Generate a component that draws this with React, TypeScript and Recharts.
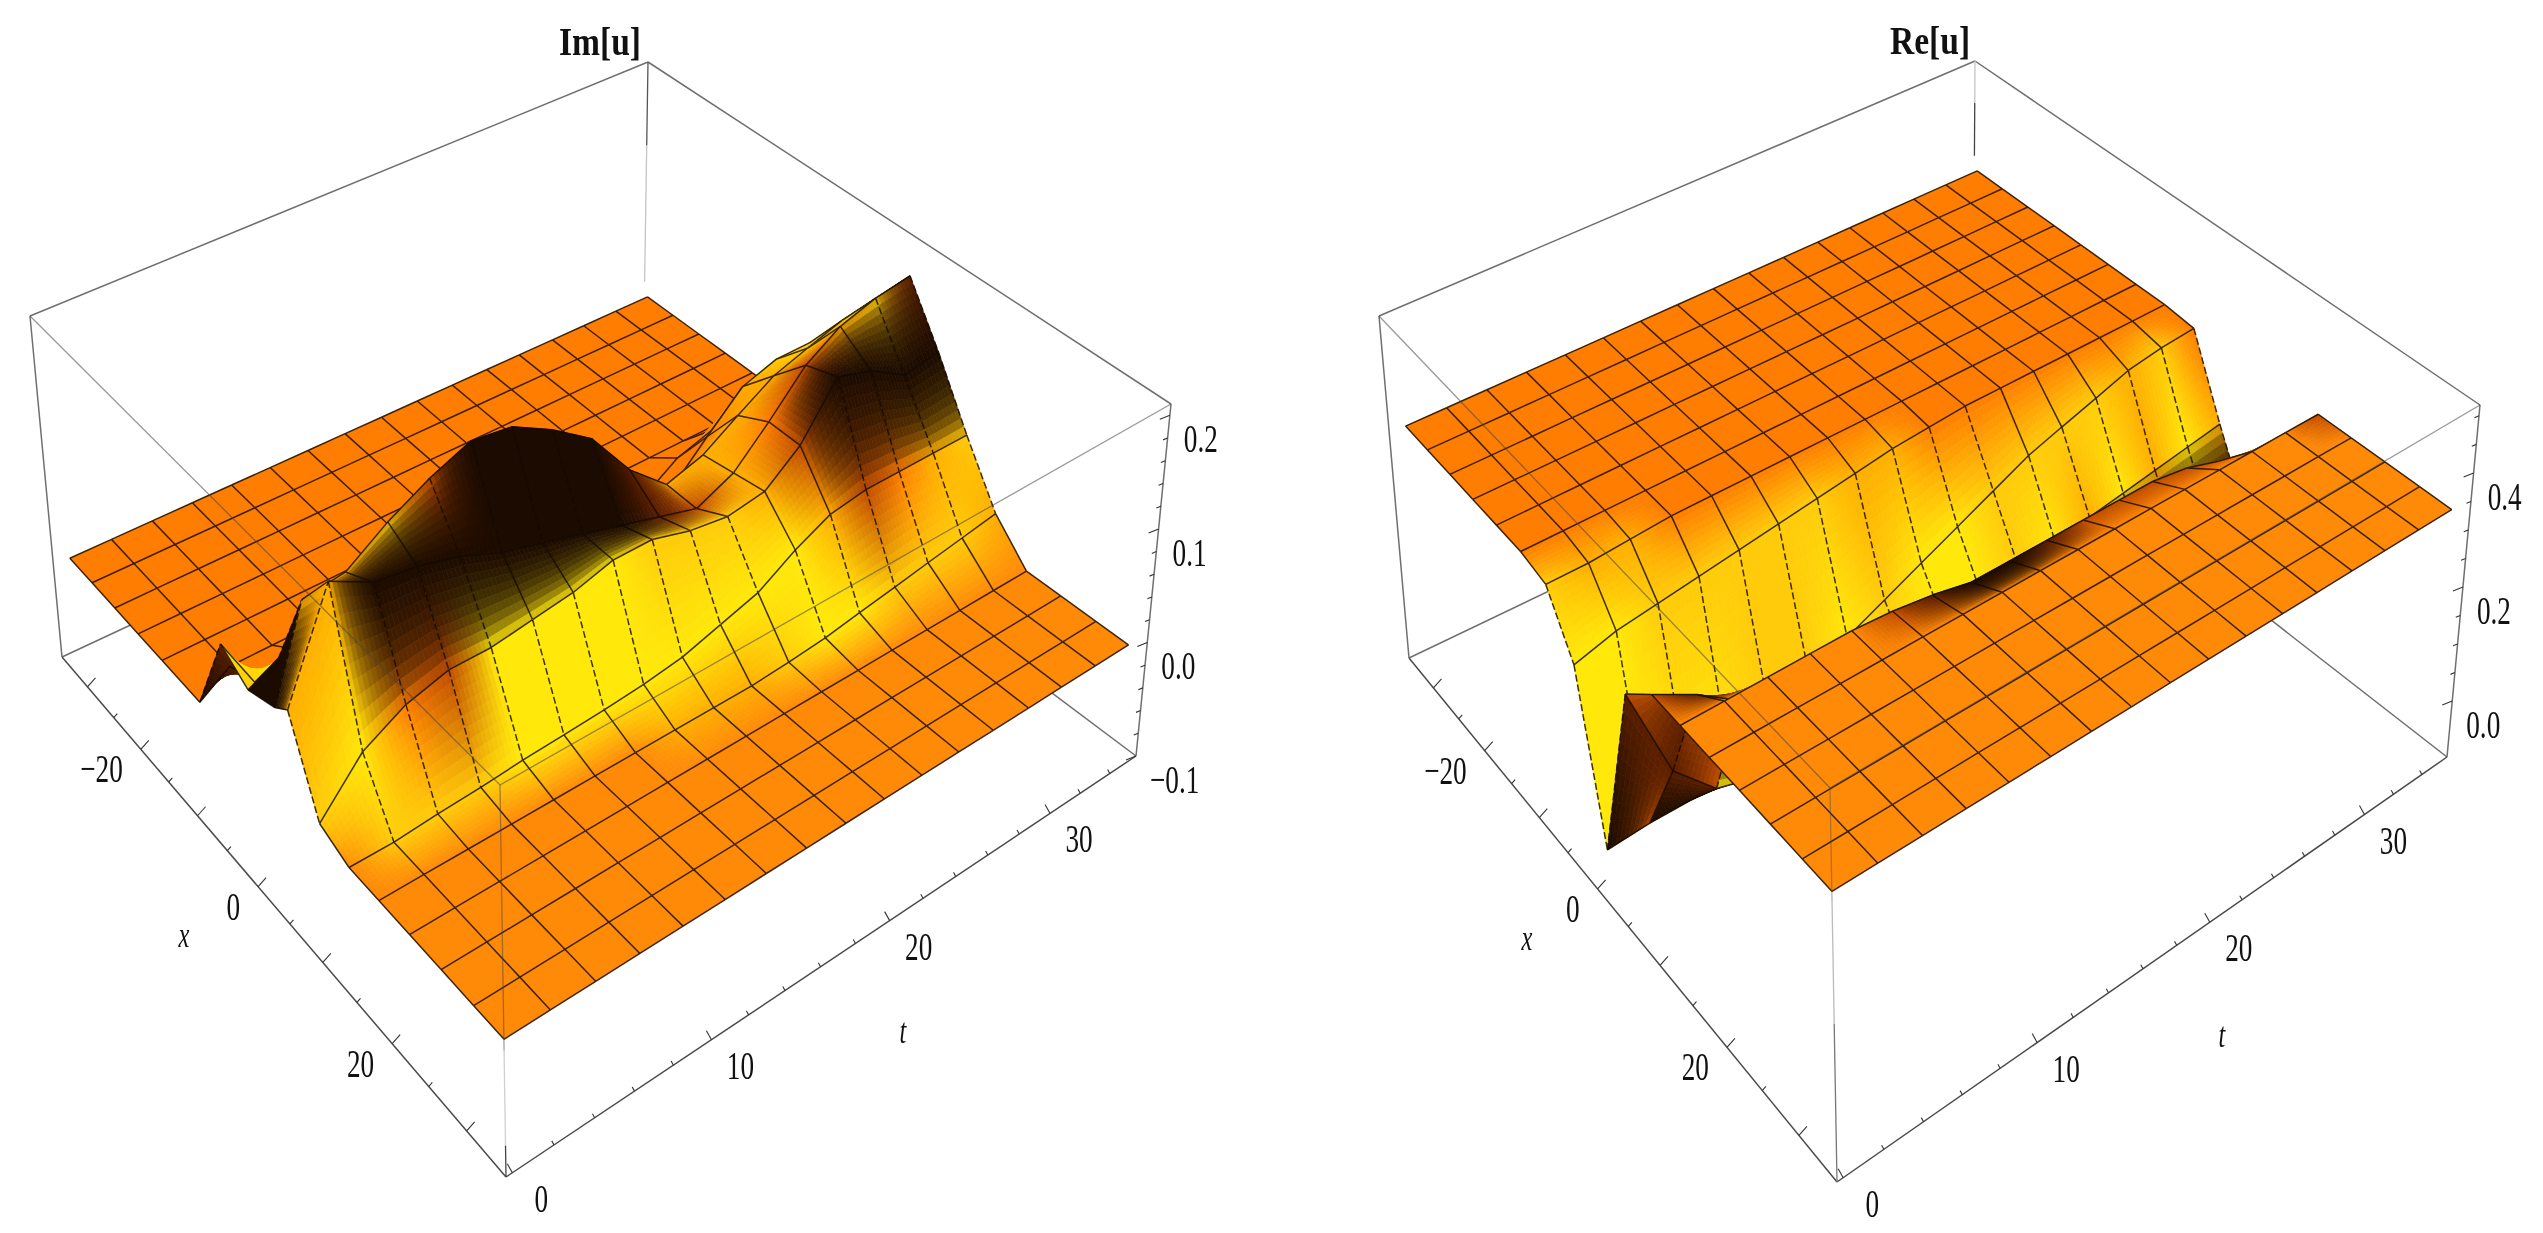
import { ScatterChart, Scatter, XAxis, YAxis } from 'recharts';

const WIDTH = 2543;
const HEIGHT = 1233;

// mesh nodes along each axis
const xNodes = [-32.6, -28.4, -24.2, -20, -15.8, -11.6, -7.4, -3.2, 1, 5.2, 9.4, 13.6, 17.8, 22, 26.2, 30.4, 34.2];
const tNodes = [0, 2.2, 4.4, 6.6, 8.8, 11, 13.2, 15.4, 17.6, 19.8, 22, 24.2, 26.3, 28.5, 30.6, 32.8, 35];

const xTicks = [-30, -25, -20, -15, -10, -5, 0, 5, 10, 15, 20, 25, 30];
const xLabels = [-20, 0, 20];
const tTicks = [0, 2, 4, 6, 8, 10, 12, 14, 16, 18, 20, 22, 24, 26, 28, 30, 32, 34];
const tLabels = [0, 10, 20, 30];

// heights, one row per x node, one column per t node
const imHeights = [
  [0, 0, 0, 0, 0, 0, 0, 0, 0, 0, 0, 0, 0, 0, 0, 0, 0],
  [0, 0, 0, 0, 0, 0, 0, 0, 0, 0, 0, 0, 0, 0, 0, 0, 0],
  [0, 0, 0, 0, 0, 0, 0, 0, 0, 0, 0, 0, 0, 0, 0, 0, 0],
  [0, 0, 0, 0, 0, 0, 0, 0, 0, 0, 0, 0, 0, 0, 0, 0, 0],
  [0, 0, 0, 0, 0, 0, 0, 0, 0, 0, 0, 0, 0, 0, 0, 0, 0],
  [0, 0, 0, 0, 0, 0, 0, 0, 0, 0, 0, 0, 0, 0, 0, 0, 0],
  [0.075, 0.01, 0.02, 0.03, 0.04, 0.04, 0.03, 0.02, 0.01, 0, 0, 0, 0.02, 0.03, 0.035, 0.04, 0.04],
  [0.06, 0.055, 0.07, 0.1, 0.12, 0.13, 0.125, 0.1, 0.07, 0.04, 0.025, 0.03, 0.06, 0.09, 0.1, 0.1, 0.095],
  [0.07, 0.13, 0.135, 0.16, 0.18, 0.195, 0.19, 0.17, 0.145, 0.1, 0.07, 0.08, 0.1, 0.12, 0.13, 0.14, 0.145],
  [0.08, 0.17, 0.15, 0.145, 0.135, 0.12, 0.11, 0.1, 0.09, 0.08, 0.07, 0.085, 0.115, 0.15, 0.17, 0.18, 0.185],
  [0.01, 0.05, 0.07, 0.08, 0.08, 0.085, 0.09, 0.1, 0.1, 0.09, 0.085, 0.09, 0.115, 0.16, 0.15, 0.13, 0.135],
  [0, 0, 0.003, 0.005, 0.008, 0.01, 0.012, 0.015, 0.02, 0.03, 0.04, 0.06, 0.075, 0.08, 0.08, 0.08, 0.08],
  [0, 0, 0, 0, 0, 0, 0, 0, 0, 0, 0.002, 0.005, 0.01, 0.015, 0.02, 0.025, 0.03],
  [0, 0, 0, 0, 0, 0, 0, 0, 0, 0, 0, 0, 0, 0, 0, 0, 0],
  [0, 0, 0, 0, 0, 0, 0, 0, 0, 0, 0, 0, 0, 0, 0, 0, 0],
  [0, 0, 0, 0, 0, 0, 0, 0, 0, 0, 0, 0, 0, 0, 0, 0, 0],
  [0, 0, 0, 0, 0, 0, 0, 0, 0, 0, 0, 0, 0, 0, 0, 0, 0],
];

const reHeights = [
  [0.34, 0.34, 0.34, 0.34, 0.34, 0.34, 0.34, 0.34, 0.34, 0.34, 0.34, 0.34, 0.34, 0.34, 0.34, 0.34, 0.34],
  [0.34, 0.34, 0.34, 0.34, 0.34, 0.34, 0.34, 0.34, 0.34, 0.34, 0.34, 0.34, 0.34, 0.34, 0.34, 0.34, 0.34],
  [0.34, 0.34, 0.34, 0.34, 0.34, 0.34, 0.34, 0.34, 0.34, 0.34, 0.34, 0.34, 0.34, 0.34, 0.34, 0.34, 0.34],
  [0.34, 0.34, 0.34, 0.34, 0.34, 0.34, 0.34, 0.34, 0.34, 0.34, 0.34, 0.34, 0.34, 0.34, 0.34, 0.34, 0.34],
  [0.34, 0.34, 0.34, 0.34, 0.34, 0.34, 0.34, 0.34, 0.34, 0.34, 0.34, 0.34, 0.34, 0.34, 0.34, 0.34, 0.34],
  [0.34, 0.34, 0.34, 0.34, 0.34, 0.34, 0.34, 0.34, 0.34, 0.34, 0.34, 0.34, 0.34, 0.34, 0.34, 0.34, 0.34],
  [0.33, 0.33, 0.335, 0.34, 0.34, 0.34, 0.34, 0.34, 0.34, 0.34, 0.34, 0.34, 0.34, 0.34, 0.34, 0.34, 0.34],
  [0.24, 0.26, 0.27, 0.28, 0.29, 0.3, 0.31, 0.32, 0.33, 0.335, 0.34, 0.34, 0.34, 0.34, 0.34, 0.34, 0.34],
  [-0.025, -0.02, -0.02, -0.01, 0.04, 0.08, 0.11, 0.14, 0.17, 0.2, 0.23, 0.26, 0.28, 0.3, 0.32, 0.33, 0.335],
  [0.29, 0.12, 0.05, 0.03, 0.03, 0.04, 0.05, 0.06, 0.08, 0.1, 0.12, 0.14, 0.16, 0.17, 0.18, 0.19, 0.2],
  [0.34, 0.3, 0.25, 0.2, 0.15, 0.1, 0.06, 0.04, 0.03, 0.03, 0.03, 0.04, 0.05, 0.06, 0.07, 0.075, 0.08],
  [0.34, 0.34, 0.34, 0.34, 0.34, 0.335, 0.325, 0.31, 0.31, 0.31, 0.31, 0.31, 0.31, 0.3, 0.28, 0.24, 0.2],
  [0.34, 0.34, 0.34, 0.34, 0.34, 0.34, 0.34, 0.34, 0.34, 0.34, 0.34, 0.34, 0.34, 0.34, 0.34, 0.34, 0.34],
  [0.34, 0.34, 0.34, 0.34, 0.34, 0.34, 0.34, 0.34, 0.34, 0.34, 0.34, 0.34, 0.34, 0.34, 0.34, 0.34, 0.34],
  [0.34, 0.34, 0.34, 0.34, 0.34, 0.34, 0.34, 0.34, 0.34, 0.34, 0.34, 0.34, 0.34, 0.34, 0.34, 0.34, 0.34],
  [0.34, 0.34, 0.34, 0.34, 0.34, 0.34, 0.34, 0.34, 0.34, 0.34, 0.34, 0.34, 0.34, 0.34, 0.34, 0.34, 0.34],
  [0.34, 0.34, 0.34, 0.34, 0.34, 0.34, 0.34, 0.34, 0.34, 0.34, 0.34, 0.34, 0.34, 0.34, 0.34, 0.34, 0.34],
];

const shadeColors = ['#1c0b00', '#5a1e00', '#c04e00', '#ff7d00', '#ffae00', '#ffcb0a', '#ffe80a', '#ff8a08'];
const shadeWeights = [4.5, 2.6, 1.4, 1, 1, 1, 1, 1];

const imShades = [
  '33333333333333333',
  '33333333333333333',
  '33333333333333333',
  '33333333333333333',
  '33333333333333333',
  '33333333333333333',
  '13333333333333333',
  '55455111333334552',
  '04452000014444550',
  '44000000012432451',
  '56326666555420000',
  '75556666666642345',
  '77777774445665554',
  '77777777777777777',
  '77777777777777777',
  '77777777777777777',
  '77777777777777777',
];

const reShades = [
  '33333333333333333',
  '33333333333333333',
  '33333333333333333',
  '33333333333333333',
  '33333333333333333',
  '33333333333333333',
  '54433333333333333',
  '66555554433333333',
  '66665565665555453',
  '06666666665646464',
  '21000000000000000',
  '77777210012222220',
  '77777777777777772',
  '77777777777777777',
  '77777777777777777',
  '77777777777777777',
  '77777777777777777',
];

// cells whose faces break sharply at a crease: row, column, corners
const imCellShades = [
  { i: 5, j: 0, corners: '0111' },
  { i: 6, j: 0, corners: '6565' },
  { i: 7, j: 0, corners: '0000' },
];
const reCellShades = [
  { i: 8, j: 0, corners: '0112' },
  { i: 8, j: 1, corners: '0110' },
  { i: 8, j: 2, corners: '0110' },
  { i: 9, j: 0, corners: '2211' },
  { i: 9, j: 1, corners: '1222' },
];

// the t = 0 edge samples sit a little off the mesh rows
const imEdgeShift = [0, 0, 0, 0, 0, 2.2, 2.2, 2.2, 2.2, 0, 0, 0, 0, 0, 0, 0, 0];
const reEdgeShift = [0, 0, 0, 0, 0, 0, 0, 0, 0, 0, 0, 0, 0, 0, 0, 0, 0];

type Pt = { x: number; y: number };

const imPlot = {
  title: 'Im[u]',
  titleAt: [600, 55],
  xNameAt: [184, 947],
  tNameAt: [903, 1043],
  heights: imHeights,
  shades: imShades,
  cellShades: imCellShades,
  edgeShift: imEdgeShift,
  zDomain: [-0.1, 0.21],
  zTicks: [-0.1, -0.08, -0.06, -0.04, -0.02, 0, 0.02, 0.04, 0.06, 0.08, 0.1, 0.12, 0.14, 0.16, 0.18, 0.2],
  zLabels: [-0.1, 0, 0.1, 0.2],
  backVertical: [[0.13, 0.21, '#555'], [0, 0.13, '#c4c4c4']],
  frontVertical: [[-0.1, -0.075, '#444'], [-0.075, 0, '#d0d0d0'], [0, 0.21, 'rgba(70,70,70,0.5)']],
  corners: {
    lb: { x: 62, y: 657 }, fb: { x: 506, y: 1177 }, rb: { x: 1136, y: 756 }, bb: { x: 643, y: 386 },
    lt: { x: 30, y: 316 }, ft: { x: 500, y: 785 }, rt: { x: 1171, y: 404 }, bt: { x: 648, y: 62 },
  },
};

const rePlot = {
  title: 'Re[u]',
  titleAt: [1930, 54],
  xNameAt: [1527, 950],
  tNameAt: [2222, 1047],
  heights: reHeights,
  shades: reShades,
  cellShades: reCellShades,
  edgeShift: reEdgeShift,
  zDomain: [-0.098, 0.519],
  zTicks: [0, 0.05, 0.1, 0.15, 0.2, 0.25, 0.3, 0.35, 0.4, 0.45, 0.5],
  zLabels: [0, 0.2, 0.4],
  backVertical: [[0.34, 0.44, '#444'], [0.44, 0.519, '#c4c4c4']],
  frontVertical: [[-0.098, 0.15, '#777'], [0.15, 0.34, '#bbb'], [0.34, 0.519, 'rgba(80,80,80,0.45)']],
  corners: {
    lb: { x: 1409, y: 658 }, fb: { x: 1837, y: 1182 }, rb: { x: 2447, y: 757 }, bb: { x: 1973, y: 388 },
    lt: { x: 1379, y: 316 }, ft: { x: 1830, y: 788 }, rt: { x: 2480, y: 405 }, bt: { x: 1975, y: 61 },
  },
};

type Plot = typeof imPlot;

const xDomain = [-35, 35];
const tDomain = [-0.3, 35.8];

function homography(p0: Pt, p1: Pt, p2: Pt, p3: Pt) {
  const dx1 = p1.x - p2.x;
  const dx2 = p3.x - p2.x;
  const sx = p0.x - p1.x + p2.x - p3.x;
  const dy1 = p1.y - p2.y;
  const dy2 = p3.y - p2.y;
  const sy = p0.y - p1.y + p2.y - p3.y;
  const den = dx1 * dy2 - dx2 * dy1;
  const g = (sx * dy2 - dx2 * sy) / den;
  const h = (dx1 * sy - sx * dy1) / den;
  const a = p1.x - p0.x + g * p1.x;
  const b = p3.x - p0.x + h * p3.x;
  const d = p1.y - p0.y + g * p1.y;
  const e = p3.y - p0.y + h * p3.y;
  return (u: number, v: number): Pt => {
    const w = g * u + h * v + 1;
    return { x: (a * u + b * v + p0.x) / w, y: (d * u + e * v + p0.y) / w };
  };
}

function projector(plot: Plot) {
  const c = plot.corners;
  const bottom = homography(c.lb, c.fb, c.rb, c.bb);
  const top = homography(c.lt, c.ft, c.rt, c.bt);
  return (x: number, t: number, z: number): Pt => {
    const u = (x - xDomain[0]) / (xDomain[1] - xDomain[0]);
    const v = (t - tDomain[0]) / (tDomain[1] - tDomain[0]);
    const w = (z - plot.zDomain[0]) / (plot.zDomain[1] - plot.zDomain[0]);
    const b = bottom(u, v);
    const a = top(u, v);
    return { x: b.x + (a.x - b.x) * w, y: b.y + (a.y - b.y) * w };
  };
}

const hexToRgb = (hex: string) => [1, 3, 5].map((k) => parseInt(hex.slice(k, k + 2), 16));

function mixColor(corners: string, s: number, r: number) {
  const digits = corners.split('').map(Number);
  const base = [(1 - s) * (1 - r), s * (1 - r), s * r, (1 - s) * r];
  const weights = base.map((b, k) => b * shadeWeights[digits[k]]);
  const total = weights.reduce((sum, v) => sum + v, 0);
  const out = [0, 1, 2].map((c) =>
    Math.round(digits.reduce((sum, d, k) => sum + hexToRgb(shadeColors[d])[c] * weights[k], 0) / total),
  );
  return `rgb(${out[0]},${out[1]},${out[2]})`;
}

const lerp = (a: Pt, b: Pt, s: number): Pt => ({ x: a.x + (b.x - a.x) * s, y: a.y + (b.y - a.y) * s });

// surface cells, far corner first so that nearer ones paint over them
function buildFacets(plot: Plot) {
  const project = projector(plot);
  const P = (i: number, j: number) => project(xNodes[i] + (j === 0 ? plot.edgeShift[i] : 0), tNodes[j], plot.heights[i][j]);
  const facets: any[] = [];
  const rows = xNodes.length - 1;
  const cols = tNodes.length - 1;
  for (let i = 0; i < rows; i++) {
    for (let j = cols - 1; j >= 0; j--) {
      const a = P(i, j);
      const b = P(i + 1, j);
      const c = P(i + 1, j + 1);
      const d = P(i, j + 1);
      const fix = plot.cellShades.find((f) => f.i === i && f.j === j);
      const corners = fix ? fix.corners : plot.shades[i][j] + plot.shades[i + 1][j] + plot.shades[i + 1][j + 1] + plot.shades[i][j + 1];
      const flat = corners.split('').every((ch) => ch === corners[0]);
      const n = flat ? 1 : 10;
      const polys: { points: string; fill: string }[] = [];
      for (let p = 0; p < n; p++) {
        for (let q = 0; q < n; q++) {
          const at = (s: number, r: number) => lerp(lerp(a, b, s), lerp(d, c, s), r);
          const pts = [at(p / n, q / n), at((p + 1) / n, q / n), at((p + 1) / n, (q + 1) / n), at(p / n, (q + 1) / n)];
          polys.push({
            points: pts.map((o) => `${o.x.toFixed(1)},${o.y.toFixed(1)}`).join(' '),
            fill: mixColor(corners, (p + 0.5) / n, (q + 0.5) / n),
          });
        }
      }
      const edges: [Pt, Pt][] = [[a, d], [d, c]];
      if (i === rows - 1) edges.push([b, c]);
      if (j === 0) edges.push([a, b]);
      facets.push({ x: a.x, y: a.y, polys, edges });
    }
  }
  return facets;
}

const FacetShape = (props: any) => {
  const { cx, cy, payload } = props;
  return (
    <g transform={`translate(${cx - payload.x},${cy - payload.y})`}>
      {payload.polys.map((poly: any, k: number) => (
        <polygon key={k} points={poly.points} fill={poly.fill} stroke={poly.fill} strokeWidth={0.7} />
      ))}
      {payload.edges.map(([p, q]: [Pt, Pt], k: number) => {
        const steep = Math.abs(q.x - p.x) < Math.abs(q.y - p.y) * 0.4;
        return (
          <line
            key={`e${k}`}
            x1={p.x}
            y1={p.y}
            x2={q.x}
            y2={q.y}
            stroke="#140a00"
            strokeOpacity={0.82}
            strokeWidth={1.5}
            strokeDasharray={steep ? '7 3' : undefined}
          />
        );
      })}
    </g>
  );
};

const NoDot = () => <g />;

const tickShape = (dir: number[]) => (props: any) => {
  const { cx, cy, payload } = props;
  const len = payload.major ? 1 : 0.45;
  return <line x1={cx} y1={cy} x2={cx + dir[0] * len} y2={cy + dir[1] * len} stroke="#333" strokeWidth={1.1} />;
};

const TextShape = (props: any) => {
  const { cx, cy, payload } = props;
  return (
    <text
      transform={`translate(${cx},${cy}) scale(${payload.sx},1)`}
      textAnchor={payload.anchor}
      fontFamily="'Liberation Serif', serif"
      fontSize={payload.size}
      fontWeight={payload.bold ? 'bold' : 'normal'}
      fontStyle={payload.italic ? 'italic' : 'normal'}
      fill="#111"
    >
      {payload.text}
    </text>
  );
};

const fmtZ = (v: number) => v.toFixed(1).replace('-', '\u2212');
const fmtAxis = (v: number) => String(v).replace('-', '\u2212');

function renderPlot(plot: Plot) {
  const project = projector(plot);
  const c = plot.corners;
  const [zMin] = plot.zDomain;
  const major = (v: number, step: number) => Math.abs(v / step - Math.round(v / step)) < 1e-6;

  const backEdges: Pt[][] = [[c.lb, c.bb], [c.rb, c.bb], [c.lt, c.bt], [c.rt, c.bt], [c.lb, c.lt], [c.rb, c.rt]];
  const axisEdges: Pt[][] = [[c.lb, c.fb], [c.fb, c.rb]];
  const frontEdges: Pt[][] = [[c.lt, c.ft], [c.rt, c.ft]];

  const xTickPts = xTicks.map((v) => ({ ...project(v, tDomain[0], zMin), major: major(v, 10) }));
  const tTickPts = tTicks.map((v) => ({ ...project(xDomain[1], v, zMin), major: major(v, 10) }));
  const zTickPts = plot.zTicks.map((v) => ({ ...project(xDomain[1], tDomain[1], v), major: major(v, plot.zLabels[1] - plot.zLabels[0]) }));

  const labels: any[] = [];
  const base = { sx: 0.68, size: 40 };
  xLabels.forEach((v) => {
    const p = project(v, tDomain[0], zMin);
    labels.push({ ...base, x: p.x - 18, y: p.y + 33, text: fmtAxis(v), anchor: 'end' });
  });
  tLabels.forEach((v) => {
    const p = project(xDomain[1], v, zMin);
    labels.push({ ...base, x: p.x + 29, y: p.y + 39, text: fmtAxis(v), anchor: 'middle' });
  });
  plot.zLabels.forEach((v) => {
    const p = project(xDomain[1], tDomain[1], v);
    labels.push({ ...base, x: p.x + 14, y: p.y + 37, text: fmtZ(v), anchor: 'start' });
  });
  labels.push({ ...base, x: plot.xNameAt[0], y: plot.xNameAt[1], text: 'x', anchor: 'middle', italic: true, size: 36 });
  labels.push({ ...base, x: plot.tNameAt[0], y: plot.tNameAt[1], text: 't', anchor: 'middle', italic: true, size: 36 });
  labels.push({ x: plot.titleAt[0], y: plot.titleAt[1], text: plot.title, anchor: 'middle', bold: true, sx: 0.84, size: 40 });

  const edgeScatter = (pts: Pt[], key: string, stroke: string, width: number) => (
    <Scatter key={key} data={pts} line={{ stroke, strokeWidth: width }} shape={NoDot} isAnimationActive={false} />
  );

  return [
    ...backEdges.map((e, k) => edgeScatter(e, `${plot.title}-back${k}`, '#6f6f6f', 1.5)),
    ...plot.backVertical.map((s: any, k: number) =>
      edgeScatter([project(xDomain[0], tDomain[1], s[0]), project(xDomain[0], tDomain[1], s[1])], `${plot.title}-bv${k}`, s[2], 1.3),
    ),
    <Scatter key={`${plot.title}-surface`} data={buildFacets(plot)} shape={FacetShape} isAnimationActive={false} />,
    ...axisEdges.map((e, k) => edgeScatter(e, `${plot.title}-axis${k}`, '#4a4a4a', 1.5)),
    ...frontEdges.map((e, k) => edgeScatter(e, `${plot.title}-front${k}`, 'rgba(70,70,70,0.55)', 1.3)),
    ...plot.frontVertical.map((s: any, k: number) =>
      edgeScatter([project(xDomain[1], tDomain[0], s[0]), project(xDomain[1], tDomain[0], s[1])], `${plot.title}-fv${k}`, s[2], 1.3),
    ),
    <Scatter key={`${plot.title}-xt`} data={xTickPts} shape={tickShape([8, -9])} isAnimationActive={false} />,
    <Scatter key={`${plot.title}-tt`} data={tTickPts} shape={tickShape([-5, -9])} isAnimationActive={false} />,
    <Scatter key={`${plot.title}-zt`} data={zTickPts} shape={tickShape([-10, 4])} isAnimationActive={false} />,
    <Scatter key={`${plot.title}-labels`} data={labels} shape={TextShape} isAnimationActive={false} />,
  ];
}

export default function App() {
  return (
    <div style={{ position: 'absolute', left: 0, top: 0, width: WIDTH, height: HEIGHT, background: '#fff', filter: 'blur(0.7px)' }}>
      <ScatterChart width={WIDTH} height={HEIGHT} margin={{ top: 0, right: 0, bottom: 0, left: 0 }}>
        <XAxis type="number" dataKey="x" domain={[0, WIDTH]} hide />
        <YAxis type="number" dataKey="y" domain={[0, HEIGHT]} reversed hide />
        {renderPlot(imPlot)}
        {renderPlot(rePlot)}
      </ScatterChart>
    </div>
  );
}
